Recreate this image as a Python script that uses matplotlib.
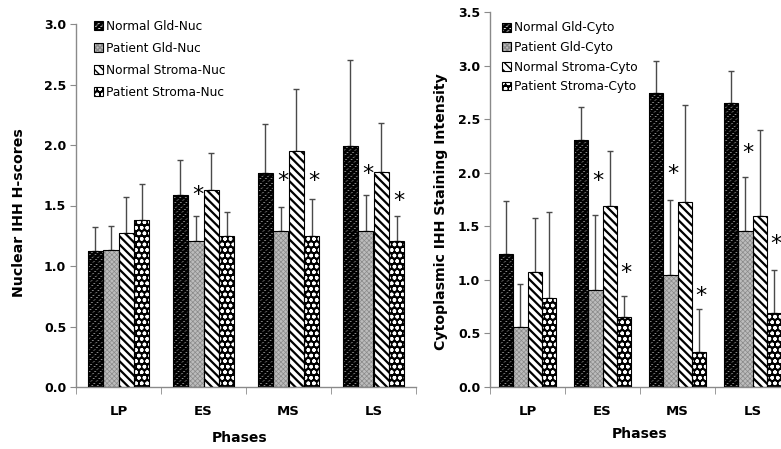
import numpy as np
import matplotlib
matplotlib.use('Agg')
import matplotlib.pyplot as plt
from matplotlib.patches import Patch

# data
phases = ['LP', 'ES', 'MS', 'LS']

nuc_labels = ['Normal Gld-Nuc', 'Patient Gld-Nuc', 'Normal Stroma-Nuc', 'Patient Stroma-Nuc']
nuc_normal_gld = [1.12, 1.59, 1.77, 1.99]
nuc_patient_gld = [1.13, 1.21, 1.29, 1.29]
nuc_normal_stroma = [1.27, 1.63, 1.95, 1.78]
nuc_patient_stroma = [1.38, 1.25, 1.25, 1.21]
nuc_normal_gld_err = [0.20, 0.29, 0.40, 0.71]
nuc_patient_gld_err = [0.20, 0.20, 0.20, 0.30]
nuc_normal_stroma_err = [0.30, 0.30, 0.51, 0.40]
nuc_patient_stroma_err = [0.30, 0.20, 0.30, 0.20]
# significance stars: (phase index, series index, height)
nuc_star_phase = [1, 2, 2, 3, 3]
nuc_star_series = [1, 1, 3, 1, 3]
nuc_star_y = [1.60, 1.72, 1.72, 1.78, 1.55]

cyto_labels = ['Normal Gld-Cyto', 'Patient Gld-Cyto', 'Normal Stroma-Cyto', 'Patient Stroma-Cyto']
cyto_normal_gld = [1.24, 2.31, 2.74, 2.65]
cyto_patient_gld = [0.56, 0.91, 1.05, 1.46]
cyto_normal_stroma = [1.07, 1.69, 1.73, 1.60]
cyto_patient_stroma = [0.83, 0.65, 0.33, 0.69]
cyto_normal_gld_err = [0.50, 0.30, 0.30, 0.30]
cyto_patient_gld_err = [0.40, 0.70, 0.70, 0.50]
cyto_normal_stroma_err = [0.51, 0.51, 0.90, 0.80]
cyto_patient_stroma_err = [0.80, 0.20, 0.40, 0.40]
cyto_star_phase = [1, 1, 2, 2, 3, 3]
cyto_star_series = [1, 3, 1, 3, 1, 3]
cyto_star_y = [1.94, 1.08, 2.01, 0.87, 2.20, 1.35]

# hatch layers per series: (fill, hatch, hatch colour, hatch width)
styles = [[('black', '//////', 'white', 0.8), (None, '-------', 'black', 1.3)],
          [('#bcbcbc', 'xxxxxxx', '#8a8a8a', 0.5)],
          [('white', '\\\\\\\\', 'black', 1.6)],
          [('black', 'ooo', 'white', 1.0)]]

plt.rcParams['font.family'] = 'DejaVu Sans'
grey = '#8a8a8a'


def hatched_bar(ax, pos, h, width, layers):
    for face, hatch, hcol, hlw in layers:
        plt.rcParams['hatch.linewidth'] = hlw
        bars = ax.bar(pos, h, width, color=face if face else 'none', fill=face is not None,
                      edgecolor=hcol, hatch=hatch, linewidth=0, zorder=2)
        for b in bars:
            if hasattr(b, 'set_hatch_linewidth'):
                b.set_hatch_linewidth(hlw)
    ax.bar(pos, h, width, fill=False, edgecolor='black', linewidth=0.8, zorder=3)


def legend_handle(layers):
    parts = []
    for face, hatch, hcol, hlw in layers:
        plt.rcParams['hatch.linewidth'] = hlw
        p = Patch(facecolor=face if face else 'none', fill=face is not None, edgecolor=hcol,
                  hatch=hatch, linewidth=0)
        parts.append(p)
    parts.append(Patch(fill=False, edgecolor='black', linewidth=0.8))
    return tuple(parts)


def draw_panel(ax, means, errs, labels, ymax, ylabel, star_phase, star_series, star_y,
               width, legend_anchor, legend_spacing):
    x = np.arange(len(phases))
    handles = []
    for i in range(4):
        pos = x + (i - 1.5) * width
        hatched_bar(ax, pos, means[i], width, styles[i])
        ax.errorbar(pos, means[i], yerr=[np.zeros(4), errs[i]], fmt='none', ecolor='#4a4a4a',
                    elinewidth=1.0, capsize=2, capthick=1.0, zorder=1)
        handles.append(legend_handle(styles[i]))
    for p, s, yv in zip(star_phase, star_series, star_y):
        ax.text(p + (s - 1.5) * width + 0.03, yv, '*', ha='center', va='center_baseline',
                fontsize=16)
    ax.set_xlim(-0.5, 3.5)
    ax.set_ylim(0, ymax)
    ax.set_yticks(np.arange(0, ymax + 0.01, 0.5))
    ax.set_yticklabels(['%.1f' % v for v in np.arange(0, ymax + 0.01, 0.5)], fontweight='bold',
                       fontsize=9)
    ax.set_xticks(x)
    ax.set_xticklabels(phases, fontweight='bold', fontsize=9.5)
    ax.set_xticks(np.arange(-0.5, 4, 1), minor=True)
    ax.tick_params(axis='x', which='major', length=0, pad=13)
    ax.tick_params(axis='x', which='minor', length=5, color=grey, direction='out')
    ax.tick_params(axis='y', length=4, color=grey, pad=3)
    for side in ['top', 'right']:
        ax.spines[side].set_visible(False)
    for side in ['left', 'bottom']:
        ax.spines[side].set_color(grey)
        ax.spines[side].set_linewidth(1.0)
    ax.set_ylabel(ylabel, fontweight='bold', fontsize=10.2)
    ax.set_xlabel('Phases', fontweight='bold', fontsize=10)
    ax.legend(handles, labels, loc='upper left', bbox_to_anchor=legend_anchor, frameon=False,
              fontsize=8.7, handlelength=0.75, handleheight=0.75, handletextpad=0.2,
              labelspacing=legend_spacing, borderaxespad=0)


fig = plt.figure(figsize=(7.81, 4.49), dpi=100)

ax1 = fig.add_axes([76 / 781, 1 - 387 / 449, 340 / 781, 363 / 449])
draw_panel(ax1, [nuc_normal_gld, nuc_patient_gld, nuc_normal_stroma, nuc_patient_stroma],
           [nuc_normal_gld_err, nuc_patient_gld_err, nuc_normal_stroma_err, nuc_patient_stroma_err],
           nuc_labels, 3.0, 'Nuclear IHH H-scores', nuc_star_phase, nuc_star_series, nuc_star_y,
           0.182, (0.04, 1.025), 0.75)
ax1.yaxis.set_label_coords(-0.147, 0.479)
ax1.xaxis.set_label_coords(0.481, -0.12)

ax2 = fig.add_axes([490 / 781, 1 - 387 / 449, 300 / 781, 375 / 449])
draw_panel(ax2, [cyto_normal_gld, cyto_patient_gld, cyto_normal_stroma, cyto_patient_stroma],
           [cyto_normal_gld_err, cyto_patient_gld_err, cyto_normal_stroma_err, cyto_patient_stroma_err],
           cyto_labels, 3.5, 'Cytoplasmic IHH Staining Intensity', cyto_star_phase, cyto_star_series,
           cyto_star_y, 0.187, (0.025, 0.988), 0.55)
ax2.yaxis.set_label_coords(-0.14, 0.469)
ax2.xaxis.set_label_coords(0.5, -0.108)

fig.savefig('out.png', dpi=100)
